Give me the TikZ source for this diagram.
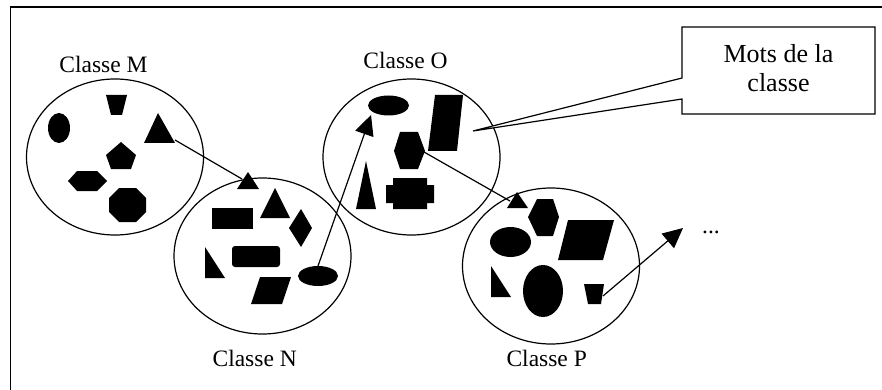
\documentclass[tikz,border=0pt]{standalone}
\usepackage{fontspec}
\setmainfont{Liberation Serif}
\usetikzlibrary{shapes.geometric,arrows.meta}
\tikzset{
  classe/.style={draw, ellipse, line width=1.2pt, minimum width=177pt, minimum height=156pt, inner sep=0pt},
  nomclasse/.style={font=\fontsize{23.5}{28}\selectfont, anchor=base, inner sep=0pt},
  lien/.style={line width=1.2pt},
  fleche/.style={line width=1.2pt, -{Triangle[length=20pt,width=19pt]}}
}
\begin{document}
\begin{tikzpicture}[x=1pt,y=-1pt]
            \useasboundingbox (0,0) rectangle (882,390);
            % 外框 (只看得到上边和左边)
            \draw[line width=1.5pt] (10.5,390) -- (10.5,7) -- (882,7);

            % 四个类
            \node[classe] (clsM) at (115,157) {};
            \node[classe] (clsN) at (262.5,256) {};
            \node[classe] (clsO) at (411.5,157) {};
            \node[classe] (clsP) at (551,266) {};

            % 类名
            \node[nomclasse] (nomM) at (103.5,72.5) {Classe M};
            \node[nomclasse] (nomO) at (405.5,69) {Classe O};
            \node[nomclasse] (nomN) at (254.7,366.5) {Classe N};
            \node[nomclasse] (nomP) at (546.7,366.5) {Classe P};

            % 类 M 里的词
            \fill (59,128) ellipse [x radius=11, y radius=15];
            \fill (106,95) -- (127,95) -- (122,115) -- (111,115) -- cycle; % 梯形
            \fill (158,113) -- (175,143) -- (144,143) -- cycle; % 三角形
            \fill (121,142) -- (136,155) -- (131,169) -- (111,169) -- (106,155) -- cycle; % 五边形
            \fill (68,181) -- (77,171) -- (97,171) -- (107,181) -- (97,191) -- (77,191) -- cycle; % 六边形
            \fill (119,188) -- (136,188) -- (146,198) -- (146,212) -- (136,222) -- (119,222) -- (109,212) -- (109,198) -- cycle; % 八边形

            % 类 N 里的词
            \fill (248,172) -- (259,189) -- (237,189) -- cycle;
            \fill (275,188) -- (290,218) -- (260,218) -- cycle;
            \fill (212,208) rectangle (253,229);
            \fill (301,209) -- (312,228) -- (301,247) -- (289,228) -- cycle; % 菱形
            \fill (205,247) -- (225,278) -- (205,278) -- cycle;
            \fill[rounded corners=3pt] (232,246) rectangle (280,267);
            \fill (260,277) -- (291,277) -- (282,304) -- (251,304) -- cycle;
            \fill (318,276) ellipse [x radius=20, y radius=10];

            % 类 O 里的词
            \fill (388.5,105.5) ellipse [x radius=20.5, y radius=10];
            \fill (435,95) -- (463,95) -- (457,151) -- (428,151) -- cycle;
            \fill (400,132) -- (418,132) -- (425,151) -- (418,169) -- (400,169) -- (394,151) -- cycle;
            \fill (366,161) -- (376,209) -- (356,209) -- cycle;
            \fill (393,178) -- (427,178) -- (427,185) -- (434,185) -- (434,203) -- (427,203)
                  -- (427,209) -- (393,209) -- (393,203) -- (386,203) -- (386,185) -- (393,185) -- cycle; % 十字

            % 类 P 里的词
            \fill (517,192) -- (528,208) -- (507,208) -- cycle;
            \fill (537,199) -- (553,199) -- (559,217) -- (553,236) -- (537,236) -- (528,217) -- cycle;
            \fill (510.5,242) ellipse [x radius=20.5, y radius=15];
            \fill (568,220) -- (614,220) -- (603,260) -- (558,260) -- cycle;
            \fill (491,266) -- (511,297) -- (491,297) -- cycle;
            \fill (543,291) ellipse [x radius=20, y radius=26];
            \fill (584,284) -- (604,284) -- (601,304) -- (588,304) -- cycle;

            % 连线的端点
            \coordinate (depM) at (175,140);
            \coordinate (arrN) at (242,179);
            \coordinate (depN) at (318,266);
            \coordinate (arrO) at (371,115);
            \coordinate (depO) at (424,152);
            \coordinate (arrP) at (510,201);
            \coordinate (depP) at (603,296);
            \coordinate (suite) at (683,228);

            % 类之间的连线
            \draw[lien] (depM) -- (arrN);
            \draw[fleche] (depN) -- (arrO);
            \draw[lien] (depO) -- (arrP);
            \draw[fleche] (depP) -- (suite);
            \node[font=\fontsize{23.5}{28}\selectfont, anchor=base, inner sep=0pt] (points) at (711,233) {...};

            % 标注框
            \coordinate (pointe) at (473,131);
            \draw[line width=1.2pt, fill=white] (682,27) -- (875,27) -- (875,114) -- (682,114)
                  -- (682,99) -- (pointe) -- (682,78) -- cycle;
            \node[font=\fontsize{26}{29}\selectfont, align=center, anchor=north, inner sep=0pt] (mots) at (778.5,44) {Mots de la\\classe};
\end{tikzpicture}
\end{document}
